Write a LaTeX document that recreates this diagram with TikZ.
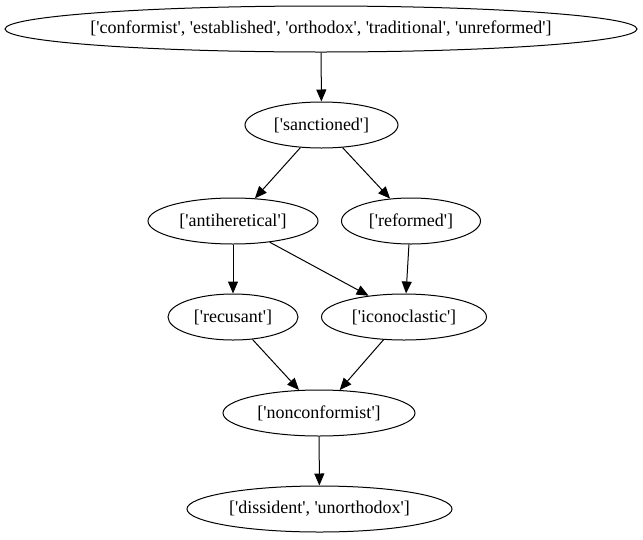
\documentclass[tikz,border=0pt]{standalone}
\usepackage{fontspec}
\setmainfont{Liberation Serif}[Ligatures=TeXOff]
\usepackage{tikz}
\usetikzlibrary {positioning, arrows.meta, shapes.geometric}

\begin{document}
\begin{tikzpicture}[x=1pt, y=-1pt,
	word/.style={ellipse, draw, line width=1pt, inner ysep=0pt, inner xsep=-20pt, minimum height=46pt,
		font=\fontsize{18}{21}\selectfont}]
\useasboundingbox (0,0) rectangle (643,539);

\node[word, minimum width=632pt] (conf) at (321,29) {['conformist', 'established', 'orthodox', 'traditional', 'unreformed']};
\node[word, minimum width=153pt] (sanc) at (321.5,125) {['sanctioned']};

\node[word, minimum width=170pt] (anti) at (233,221) {['antiheretical']};
\node[word, minimum width=139pt] (refo) at (411,221) {['reformed']};

\node[word, minimum width=130pt] (recu) at (233,317) {['recusant']};
\node[word, minimum width=165pt] (icon) at (404,317) {['iconoclastic']};

\node[word, minimum width=192pt] (nonc) at (319,413) {['nonconformist']};
\node[word, minimum width=265pt] (diss) at (319.5,509) {['dissident', 'unorthodox']};
% graphviz-like straight edges, anchored where dot puts them
\path [line width=1pt,
arrows={
	-{Triangle[length=12pt, width=10pt]}}]
(conf) edge (sanc)
(sanc.-133) edge (anti.46)
(sanc.-47) edge (refo.133)
(anti) edge (recu)
(anti.-30) edge (icon.149)
(refo.-95) edge (icon.85)
(recu.-49) edge (nonc.131)
(icon.-132) edge (nonc.48)
(nonc) edge (diss);

\end{tikzpicture}
\end{document}
